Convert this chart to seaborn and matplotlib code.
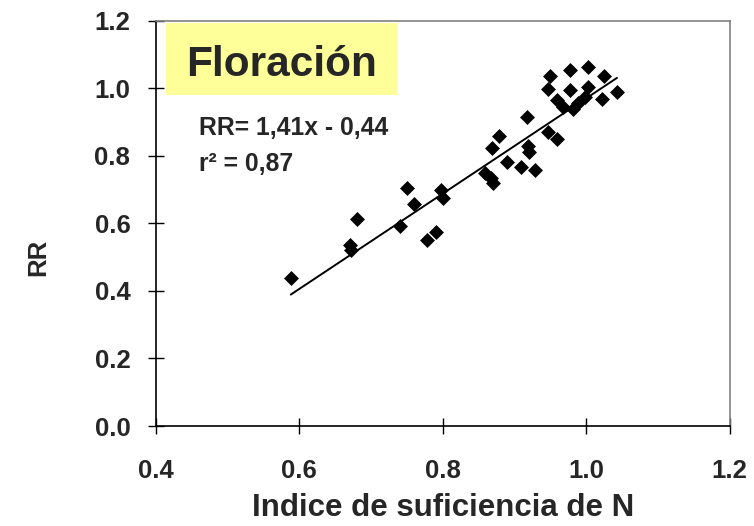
import numpy as np
import pandas as pd
import matplotlib
matplotlib.use("Agg")
import matplotlib.pyplot as plt
from matplotlib.patches import Rectangle
import seaborn as sns

# Nitrogen sufficiency index vs relative yield at flowering
indice_n = [0.588, 0.670, 0.672, 0.681, 0.740, 0.750, 0.760, 0.778, 0.790,
            0.798, 0.800, 0.859, 0.868, 0.870, 0.869, 0.879, 0.889, 0.909,
            0.918, 0.919, 0.920, 0.929, 0.947, 0.959, 0.950, 0.947, 0.959,
            0.968, 0.977, 0.982, 0.978, 0.998, 1.002, 1.002, 1.022, 1.025,
            1.043, 0.988]
rr = [0.438, 0.535, 0.520, 0.612, 0.592, 0.705, 0.656, 0.550, 0.575,
      0.700, 0.676, 0.748, 0.735, 0.720, 0.824, 0.858, 0.782, 0.767,
      0.915, 0.830, 0.812, 0.759, 0.871, 0.851, 1.036, 0.999, 0.964,
      0.945, 0.994, 0.940, 1.053, 0.975, 1.063, 1.004, 0.967, 1.036,
      0.990, 0.955]

# Linear fit reported on the chart
pendiente = 1.41
intercepto = -0.44
r2 = 0.87

x_ticks = [0.4, 0.6, 0.8, 1.0, 1.2]
y_ticks = [0.0, 0.2, 0.4, 0.6, 0.8, 1.0, 1.2]

df = pd.DataFrame({"indice": indice_n, "rr": rr})
x_fit = np.array([min(indice_n), max(indice_n)])
df_fit = pd.DataFrame({"indice": x_fit, "rr": pendiente * x_fit + intercepto})

sns.set_theme(style="white")
plt.rcParams["font.family"] = ["Liberation Sans", "DejaVu Sans"]
plt.rcParams["font.weight"] = "bold"

fig = plt.figure(figsize=(7.54, 5.26), dpi=100)
ax = fig.add_axes([156 / 754, 1 - 426 / 526, 573.5 / 754, 405.3 / 526])

sns.lineplot(data=df_fit, x="indice", y="rr", color="black", linewidth=1.4, ax=ax)
sns.scatterplot(data=df, x="indice", y="rr", marker="D", s=58, color="black",
                edgecolor="black", linewidth=0, ax=ax, zorder=3)

ax.set_xlim(0.4, 1.2)
ax.set_ylim(0.0, 1.2)
ax.set_xticks(x_ticks)
ax.set_yticks(y_ticks)
ax.set_xticklabels([f"{v:.1f}" for v in x_ticks], fontsize=18.5, fontweight="bold")
ax.set_yticklabels([f"{v:.1f}" for v in y_ticks], fontsize=18.5, fontweight="bold")
ax.tick_params(axis="both", bottom=True, left=True, top=False, right=False,
               direction="inout", length=11, width=1, color="black")
ax.tick_params(axis="x", pad=18)
ax.tick_params(axis="y", pad=13)

for side in ("left", "bottom"):
    ax.spines[side].set_color("black")
    ax.spines[side].set_linewidth(1.2)
for side in ("top", "right"):
    ax.spines[side].set_color("#808080")
    ax.spines[side].set_linewidth(1.2)

ax.set_xlabel("Indice de suficiencia de N", fontsize=22.5, fontweight="bold")
ax.set_ylabel("RR", fontsize=18.5, fontweight="bold")
ax.xaxis.set_label_coords(0.5, -0.165)
ax.yaxis.set_label_coords(-0.185, 0.417)

# Title box
ax.add_patch(Rectangle((0.0174, 0.817), 0.403, 0.178, transform=ax.transAxes,
                       facecolor="#FFFF99", edgecolor="none", zorder=1))
ax.text(0.219, 0.864, "Floración", transform=ax.transAxes, fontsize=30.5,
        fontweight="bold", ha="center", va="baseline", zorder=2)

ax.text(0.075, 0.718, "RR= 1,41x - 0,44", transform=ax.transAxes, fontsize=17.8,
        fontweight="bold", ha="left", va="baseline")
ax.text(0.075, 0.629, "r² = 0,87", transform=ax.transAxes, fontsize=17.8,
        fontweight="bold", ha="left", va="baseline")

fig.savefig("out.png", dpi=100)
